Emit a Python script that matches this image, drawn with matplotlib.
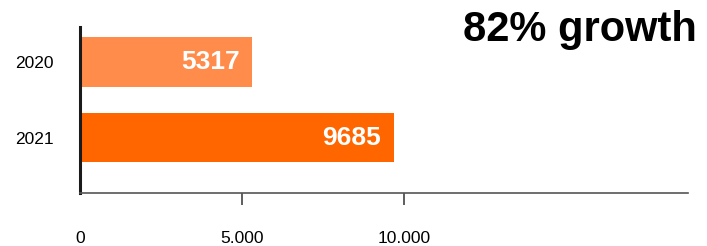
import matplotlib.pyplot as plt

years = ["2020", "2021"]
visits = [5317, 9685]
bar_colors = ["#FF8C4A", "#FF6600"]
tick_vals = [0, 5000, 10000]
tick_labels = ["0", "5.000", "10.000"]

plt.rcParams['font.family'] = ['Liberation Sans', 'DejaVu Sans']

fig = plt.figure(figsize=(7.07, 2.46), dpi=100)
ax = fig.add_axes([80 / 707, (246 - 193) / 246, (688 - 80) / 707, 166 / 246])

pos = list(range(len(years)))
ax.barh(pos, visits, height=0.66, color=bar_colors)

for p, v in zip(pos, visits):
    ax.text(v - 400, p, str(v), ha='right', va='center', color='white',
            fontsize=19, fontweight='bold')

ax.set_xlim(0, 18750)
ax.set_ylim(1.735, -0.464)

ax.set_yticks(pos)
ax.set_yticklabels(years, fontsize=12.5)
ax.tick_params(axis='y', length=0, pad=19)

ax.set_xticks(tick_vals)
ax.set_xticklabels(tick_labels, fontsize=12.5)
ax.tick_params(axis='x', length=8.5, width=1.1, color='#333333', pad=19)
# no tick mark under the zero line
ax.xaxis.get_major_ticks()[0].tick1line.set_visible(False)

for s in ['top', 'right']:
    ax.spines[s].set_visible(False)
ax.spines['left'].set_linewidth(2.2)
ax.spines['left'].set_color('#1a1a1a')
ax.spines['bottom'].set_linewidth(1.2)
ax.spines['bottom'].set_color('#555555')

fig.text(697 / 707, 1 - 30 / 246, "82% growth", ha='right', va='center',
         fontsize=30, fontweight='bold', color='black')

fig.savefig("out.png", dpi=100)
